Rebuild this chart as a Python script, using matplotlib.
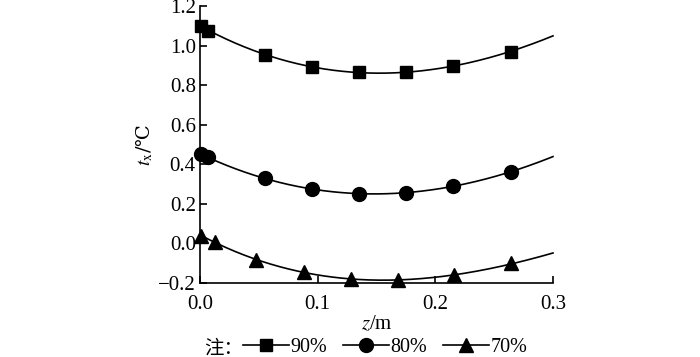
import numpy as np
import matplotlib.pyplot as plt

plt.rcParams['font.family'] = ['Liberation Serif', 'Noto Sans CJK SC']
plt.rcParams['mathtext.fontset'] = 'stix'

# datos
z_90 = [0.001, 0.007, 0.055, 0.095, 0.135, 0.175, 0.215, 0.264]
t_90 = [1.10, 1.075, 0.955, 0.893, 0.865, 0.865, 0.897, 0.970]
z_80 = [0.001, 0.007, 0.055, 0.095, 0.135, 0.175, 0.215, 0.264]
t_80 = [0.450, 0.435, 0.329, 0.274, 0.252, 0.257, 0.290, 0.360]
z_70 = [0.001, 0.013, 0.048, 0.088, 0.128, 0.168, 0.216, 0.264]
t_70 = [0.040, 0.005, -0.085, -0.142, -0.180, -0.185, -0.162, -0.100]
# valor de la curva al final del eje (z = 0.3)
z_end = 0.3
t_end = {'90%': 1.05, '80%': 0.44, '70%': -0.05}

series = [('90%', z_90, t_90, 's', 9), ('80%', z_80, t_80, 'o', 10), ('70%', z_70, t_70, '^', 10)]

fig = plt.figure(figsize=(7, 3.57), dpi=100)
ax = fig.add_axes([0.2857, 0.2073, 0.5043, 0.7757])

handles = []
for name, z, t, mk, ms in series:
    zz = np.array(z + [z_end])
    tt = np.array(t + [t_end[name]])
    coef = np.polyfit(zz, tt, 3)
    zs = np.linspace(0, z_end, 200)
    ax.plot(zs, np.polyval(coef, zs), color='black', lw=1.2, clip_on=False)
    ax.plot(z, t, linestyle='none', marker=mk, ms=ms, color='black', clip_on=False)
    h, = ax.plot([], [], color='black', lw=1.2, marker=mk, ms=ms)
    handles.append(h)

ax.set_xlim(0, 0.3)
ax.set_ylim(-0.2, 1.2)
ax.set_xticks([0.0, 0.1, 0.2, 0.3])
ax.set_yticks(np.arange(-0.2, 1.21, 0.2))
ax.set_xticklabels(['0.0', '0.1', '0.2', '0.3'])
ax.set_yticklabels(['\u22120.2', '0.0', '0.2', '0.4', '0.6', '0.8', '1.0', '1.2'])
ax.tick_params(direction='in', length=5, width=1.2, labelsize=15, pad=3)
ax.tick_params(axis='x', pad=9)
ax.spines['top'].set_visible(False)
ax.spines['right'].set_visible(False)
ax.spines['left'].set_linewidth(1.2)
ax.spines['bottom'].set_linewidth(1.2)

ax.set_xlabel(r'$z$/m', fontsize=15, labelpad=0)
# el simbolo ℃ no esta en Liberation Serif
ax.set_ylabel(r'$t_{\mathrm{x}}$/℃', fontsize=14, labelpad=2, family=['DejaVu Serif'])

fig.text(243 / 700, 1 - 348 / 357, '注：', fontsize=14, ha='right', va='center',
         family=['Noto Sans CJK SC'])
fig.legend(handles, ['90%', '80%', '70%'], loc='center',
           bbox_to_anchor=((238 + 532) / 2 / 700, 1 - 347 / 357), ncol=3,
           frameon=False, fontsize=14.5, handlelength=2.3, handletextpad=0.05,
           columnspacing=0.8, borderpad=0, borderaxespad=0)

fig.savefig('out.png', dpi=100)
